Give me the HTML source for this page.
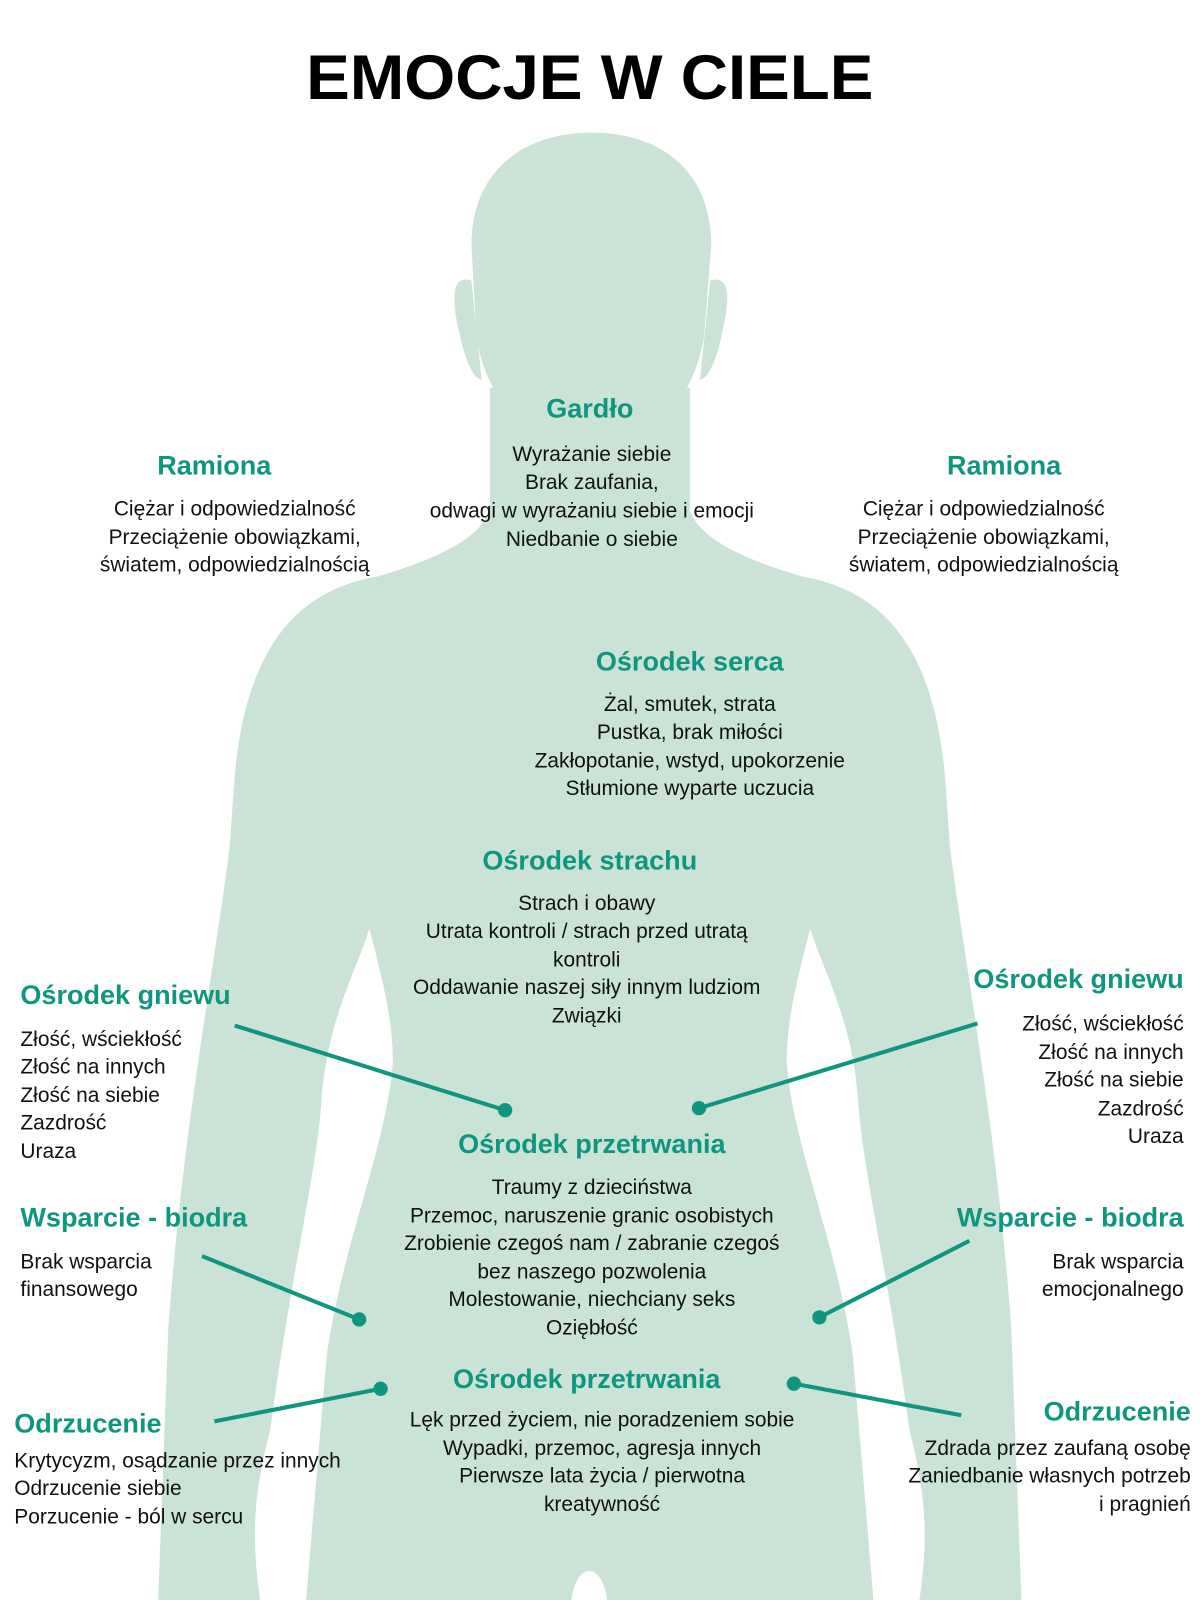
<!DOCTYPE html>
<html><head><meta charset="utf-8"><style>html,body{margin:0;padding:0;background:#fff}svg{display:block}</style></head>
<body>
<svg width="1200" height="1600" viewBox="0 0 1176 1568" xmlns="http://www.w3.org/2000/svg" font-family="'Liberation Sans', sans-serif">
<rect width="1176" height="1568" fill="#fff"/>
<g fill="#cbe3d6">
<path d="M462,240 C462,170 510,130 580,130 C650,130 697,170 697,240 L690,330 C680,390 640,440 580,440 C520,440 475,390 467,330 Z"/>
<path d="M462,275 C440,268 444,300 450,325 C456,355 465,372 472,372 Z"/>
<path d="M696,275 C718,268 714,300 708,325 C702,355 693,372 686,372 Z"/>
<path d="M480,380 L480,500 C470,530 420,550 370,565 C280,580 240,650 230,760 L225,830 C210,950 180,1100 165,1300 L155,1568 L255,1568 C245,1500 250,1460 265,1400 C285,1250 310,1150 315,1080 C320,1000 350,950 362,910 C375,960 385,1000 385,1040 C380,1120 335,1220 320,1330 L300,1568 L560,1568 C565,1530 590,1530 595,1568 L856,1568 L836,1330 C821,1220 776,1120 771,1040 C771,1000 781,960 794,910 C806,950 836,1000 841,1080 C846,1150 871,1250 891,1400 C906,1460 911,1500 901,1568 L1001,1568 L991,1300 C976,1100 946,950 931,830 L926,760 C916,650 876,580 786,565 C736,550 686,530 676,500 L676,380 Z"/>
</g>
<g stroke="#0e9680" stroke-width="4" fill="none">
<line x1="230" y1="1005" x2="495" y2="1088"/>
<line x1="958" y1="1003" x2="685" y2="1086"/>
<line x1="198" y1="1231" x2="352" y2="1293"/>
<line x1="950" y1="1216" x2="803" y2="1291"/>
<line x1="210" y1="1393" x2="373" y2="1361"/>
<line x1="942" y1="1387" x2="778" y2="1356"/>
</g>
<g fill="#0e9680">
<circle cx="495" cy="1088" r="7"/><circle cx="685" cy="1086" r="7"/>
<circle cx="352" cy="1293" r="7"/><circle cx="803" cy="1291" r="7"/>
<circle cx="373" cy="1361" r="7"/><circle cx="778" cy="1356" r="7"/>
</g>
<text x="578" y="97" text-anchor="middle" font-size="62" font-weight="bold" fill="#000" textLength="556" lengthAdjust="spacingAndGlyphs">EMOCJE W CIELE</text>
<g font-size="26.5" font-weight="bold" fill="#0e9680">
<text x="578" y="409" text-anchor="middle">Gardło</text>
<text x="210" y="465" text-anchor="middle">Ramiona</text>
<text x="984" y="465" text-anchor="middle">Ramiona</text>
<text x="676" y="657" text-anchor="middle">Ośrodek serca</text>
<text x="578" y="852" text-anchor="middle">Ośrodek strachu</text>
<text x="20" y="984">Ośrodek gniewu</text>
<text x="1160" y="968" text-anchor="end">Ośrodek gniewu</text>
<text x="580" y="1130" text-anchor="middle">Ośrodek przetrwania</text>
<text x="20" y="1202">Wsparcie - biodra</text>
<text x="1160" y="1202" text-anchor="end">Wsparcie - biodra</text>
<text x="575" y="1360" text-anchor="middle">Ośrodek przetrwania</text>
<text x="14" y="1404">Odrzucenie</text>
<text x="1167" y="1392" text-anchor="end">Odrzucenie</text>
</g>
<g font-size="20.5" fill="#111">
<g text-anchor="middle">
<text x="580" y="452">Wyrażanie siebie</text>
<text x="580" y="479">Brak zaufania,</text>
<text x="580" y="507">odwagi w wyrażaniu siebie i emocji</text>
<text x="580" y="535">Niedbanie o siebie</text>
<text x="230" y="505">Ciężar i odpowiedzialność</text>
<text x="230" y="533">Przeciążenie obowiązkami,</text>
<text x="230" y="560">światem, odpowiedzialnością</text>
<text x="964" y="505">Ciężar i odpowiedzialność</text>
<text x="964" y="533">Przeciążenie obowiązkami,</text>
<text x="964" y="560">światem, odpowiedzialnością</text>
<text x="676" y="697">Żal, smutek, strata</text>
<text x="676" y="724">Pustka, brak miłości</text>
<text x="676" y="752">Zakłopotanie, wstyd, upokorzenie</text>
<text x="676" y="779">Stłumione wyparte uczucia</text>
<text x="575" y="892">Strach i obawy</text>
<text x="575" y="919">Utrata kontroli / strach przed utratą</text>
<text x="575" y="947">kontroli</text>
<text x="575" y="974">Oddawanie naszej siły innym ludziom</text>
<text x="575" y="1002">Związki</text>
<text x="580" y="1170">Traumy z dzieciństwa</text>
<text x="580" y="1198">Przemoc, naruszenie granic osobistych</text>
<text x="580" y="1225">Zrobienie czegoś nam / zabranie czegoś</text>
<text x="580" y="1253">bez naszego pozwolenia</text>
<text x="580" y="1280">Molestowanie, niechciany seks</text>
<text x="580" y="1308">Oziębłość</text>
<text x="590" y="1398">Lęk przed życiem, nie poradzeniem sobie</text>
<text x="590" y="1426">Wypadki, przemoc, agresja innych</text>
<text x="590" y="1453">Pierwsze lata życia / pierwotna</text>
<text x="590" y="1481">kreatywność</text>
</g>
<text x="20" y="1025">Złość, wściekłość</text>
<text x="20" y="1052">Złość na innych</text>
<text x="20" y="1080">Złość na siebie</text>
<text x="20" y="1107">Zazdrość</text>
<text x="20" y="1135">Uraza</text>
<g text-anchor="end">
<text x="1160" y="1010">Złość, wściekłość</text>
<text x="1160" y="1038">Złość na innych</text>
<text x="1160" y="1065">Złość na siebie</text>
<text x="1160" y="1093">Zazdrość</text>
<text x="1160" y="1120">Uraza</text>
<text x="1160" y="1243">Brak wsparcia</text>
<text x="1160" y="1270">emocjonalnego</text>
<text x="1167" y="1426">Zdrada przez zaufaną osobę</text>
<text x="1167" y="1453">Zaniedbanie własnych potrzeb</text>
<text x="1167" y="1481">i pragnień</text>
</g>
<text x="20" y="1243">Brak wsparcia</text>
<text x="20" y="1270">finansowego</text>
<text x="14" y="1438">Krytycyzm, osądzanie przez innych</text>
<text x="14" y="1465">Odrzucenie siebie</text>
<text x="14" y="1493">Porzucenie - ból w sercu</text>
</g>
</svg>
</body></html>
